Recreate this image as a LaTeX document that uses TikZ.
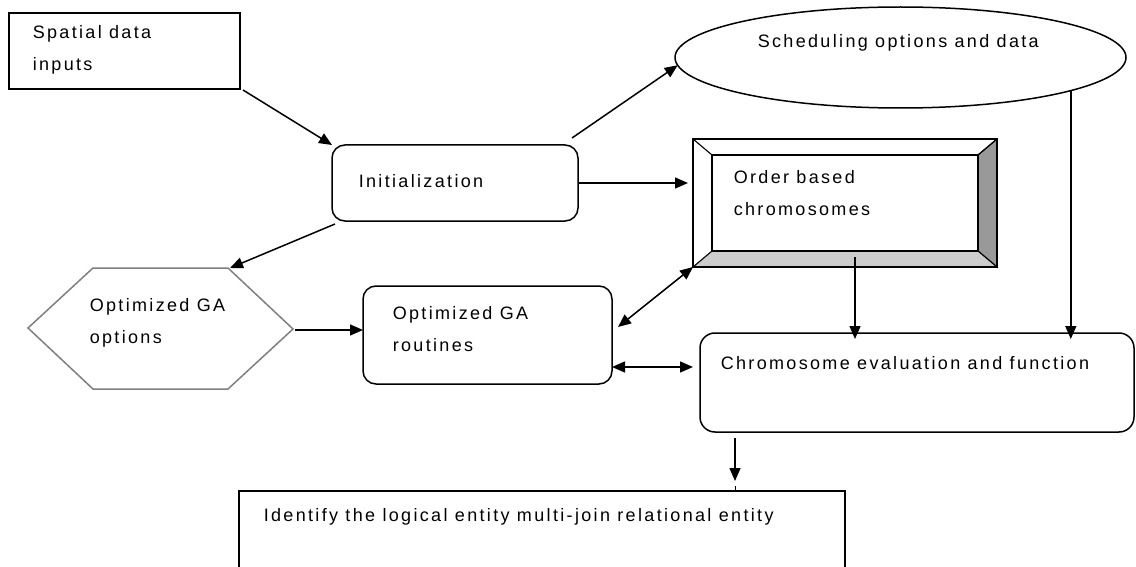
\documentclass[tikz,border=0pt]{standalone}
\usepackage{fontspec}
\newfontfamily\dfont{Liberation Sans}[LetterSpace=13]
\usetikzlibrary{arrows.meta,shapes.geometric}
\definecolor{hexgray}{HTML}{7F7F7F}
\definecolor{bevdark}{HTML}{999999}
\definecolor{bevlight}{HTML}{CCCCCC}
\begin{document}
\begin{tikzpicture}[x=1pt,y=-1pt,line width=1.5pt,
  >={Triangle[length=13pt,width=11pt]},
  txt/.style={font=\dfont\fontsize{18}{32}\selectfont,anchor=west,align=left,inner sep=0pt},
  plainbox/.style={draw,inner sep=0pt,outer sep=0pt},
  roundbox/.style={draw,inner sep=0pt,outer sep=0pt,rounded corners=13pt},
  conn/.style={->},
  biconn/.style={<->}]
\useasboundingbox (0,0) rectangle (1136,567);
% shapes
\node[plainbox,minimum width=231pt,minimum height=76pt] (spatial) at (124.5,51) {};
\node[roundbox,minimum width=246pt,minimum height=76pt] (init) at (455,183) {};
\node[draw,ellipse,inner sep=0pt,outer sep=0pt,minimum width=451pt,minimum height=101pt] (ell) at (900.5,57.5) {};
\node[plainbox,minimum width=304pt,minimum height=128pt] (bevel) at (845,203) {};
\filldraw[fill=bevdark,line width=1.1pt] (997,139) -- (997,267) -- (978,251) -- (978,155) -- cycle;
\filldraw[fill=bevlight,line width=1.1pt] (693,267) -- (997,267) -- (978,251) -- (712,251) -- cycle;
\draw[line width=1.1pt] (693,139) -- (712,155) (997,139) -- (978,155);
\draw (712,155) rectangle (978,251);
\draw (bevel.north west) rectangle (bevel.south east);
\draw[hexgray] (28,328) -- (93,268) -- (228,268) -- (293,329) -- (228,389) -- (93,389) -- cycle;
\coordinate (hexTR) at (228,268);
\coordinate (hexR) at (293,330);
\node[roundbox,minimum width=249pt,minimum height=98pt] (rout) at (487.5,335) {};
\node[draw,inner sep=0pt,outer sep=0pt,rounded corners=15pt,minimum width=434pt,minimum height=99pt] (eval) at (917,382.5) {};
\node[plainbox,minimum width=606pt,minimum height=119pt] (ident) at (542,550.5) {};
% texts
\node[txt] (tspatial) at (32,50) {Spatial data\\inputs};
\node[txt] (tinit) at (358,181) {Initialization};
\node[txt] (tsched) at (757,43) {Scheduling options and data};
\node[txt] (torder) at (733,193) {Order based\\chromosomes};
\node[txt] (thex) at (89,323) {Optimized GA\\options};
\node[txt] (trout) at (392,329) {Optimized GA\\routines};
\node[txt] (teval) at (720,363) {Chromosome evaluation and function};
\node[txt] (tident) at (263,517) {Identify the logical entity multi-join relational entity};
% connectors
\draw[conn] ([xshift=3pt,yshift=-1pt]spatial.south east) -- (init.north west);
\draw[conn] ([xshift=-6pt,yshift=7pt]init.north east) -- (ell.182.5);
\draw[conn] (init.east) -- (init.east -| bevel.west) [shorten >=5pt];
\draw[conn] ([xshift=3pt,yshift=-3pt]init.south west) -- ([xshift=2pt]hexTR);
\draw[conn] ([xshift=2pt]hexR) -- (hexR -| rout.west);
\draw[biconn] ([xshift=6pt,yshift=8pt]rout.east) -- (bevel.south west);
\coordinate (rlow) at ([yshift=-32pt]rout.east);
\draw[biconn] (rlow) -- (rlow -| eval.west) [shorten >=7pt];
\coordinate (bdown) at ([xshift=10pt,yshift=10pt]bevel.south);
\draw[conn] (bdown) -- (bdown |- eval.north) [shorten >=-6pt];
\coordinate (edown) at (ell.-11.5);
\draw[conn] (edown) -- (edown |- eval.north) [shorten >=-6pt];
\coordinate (evout) at ([xshift=-182pt,yshift=-6pt]eval.south);
\draw[conn] (evout) -- (evout |- ident.north) [shorten >=10pt];
\draw[line width=0.9pt] ([yshift=5pt]evout |- ident.north) -- (evout |- ident.north);
\end{tikzpicture}
\end{document}
